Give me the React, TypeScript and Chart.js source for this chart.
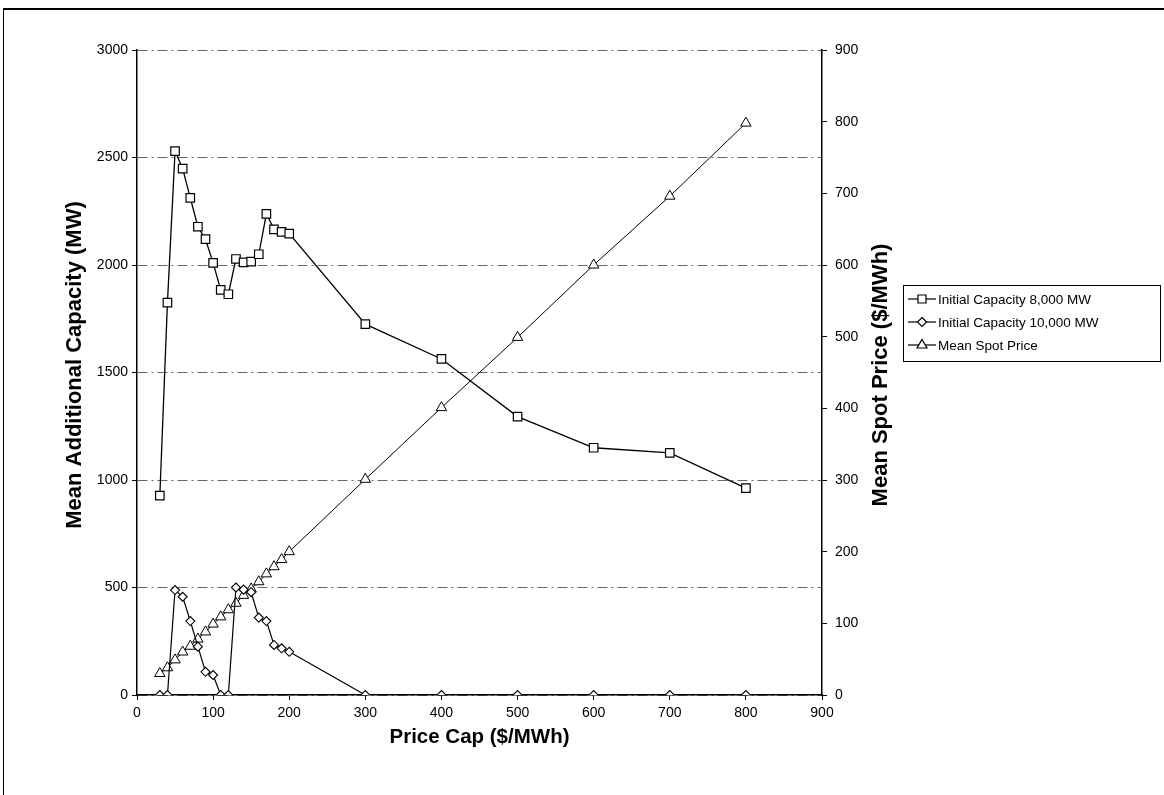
import React, { useEffect, useRef } from "react";
import { Chart, registerables } from "chart.js";

Chart.register(...registerables);

const priceCaps = [30, 40, 50, 60, 70, 80, 90, 100, 110, 120, 130, 140, 150, 160, 170, 180, 190, 200, 300, 400, 500, 600, 700, 800];
const capacity8000 = [927, 1825, 2530, 2448, 2312, 2178, 2120, 2010, 1884, 1864, 2028, 2012, 2016, 2050, 2238, 2166, 2154, 2146, 1725, 1563, 1295, 1150, 1126, 962];
const capacity10000 = [0, 0, 488, 457, 344, 225, 108, 93, 0, 0, 500, 490, 478, 360, 344, 233, 217, 201, 0, 0, 0, 0, 0, 0];
const meanSpotPrice = [30, 38, 49, 60, 68, 78, 88, 99, 109, 119, 128, 139, 148, 158, 169, 179, 189, 200, 301, 401, 499, 600, 696, 798];

const seriesNames = ["Initial Capacity 8,000 MW", "Initial Capacity 10,000 MW", "Mean Spot Price"];
const xTitle = "Price Cap ($/MWh)";
const yLeftTitle = "Mean Additional Capacity (MW)";
const yRightTitle = "Mean Spot Price ($/MWh)";

const FONT = "'Liberation Sans', Arial, sans-serif";

function drawMarker(ctx: CanvasRenderingContext2D, style: string, x: number, y: number) {
  ctx.beginPath();
  if (style === "rect") {
    ctx.rect(x - 4, y - 4, 8, 8);
  } else if (style === "rectRot") {
    ctx.moveTo(x, y - 4.5);
    ctx.lineTo(x + 4.5, y);
    ctx.lineTo(x, y + 4.5);
    ctx.lineTo(x - 4.5, y);
    ctx.closePath();
  } else {
    ctx.moveTo(x, y - 5.5);
    ctx.lineTo(x + 5, y + 3);
    ctx.lineTo(x - 5, y + 3);
    ctx.closePath();
  }
  ctx.fillStyle = "#fff";
  ctx.fill();
  ctx.stroke();
}

const extrasPlugin = {
  id: "extras",
  afterDraw(chart: any) {
    const ctx: CanvasRenderingContext2D = chart.ctx;
    const area = chart.chartArea;
    ctx.save();
    // left axis title, reading bottom-to-top
    ctx.fillStyle = "#000";
    ctx.font = `bold 22px ${FONT}`;
    ctx.textAlign = "center";
    ctx.textBaseline = "middle";
    ctx.save();
    ctx.translate(75, 365);
    ctx.rotate(-Math.PI / 2);
    ctx.fillText(yLeftTitle, 0, 0);
    ctx.restore();
    // right axis title, reading bottom-to-top
    ctx.translate(881, 375);
    ctx.rotate(-Math.PI / 2);
    ctx.fillText(yRightTitle, 0, 0);
    ctx.restore();

    // legend box
    ctx.save();
    const x0 = 903, y0 = 285, w = 257, h = 76;
    ctx.strokeStyle = "#000";
    ctx.lineWidth = 1;
    ctx.strokeRect(x0 + 0.5, y0 + 0.5, w, h);
    ctx.font = `13.5px ${FONT}`;
    ctx.textBaseline = "middle";
    ctx.textAlign = "left";
    chart.data.datasets.forEach((ds: any, i: number) => {
      const y = y0 + 14 + i * 23;
      ctx.strokeStyle = "#000";
      ctx.lineWidth = 1.2;
      ctx.beginPath();
      ctx.moveTo(x0 + 5, y);
      ctx.lineTo(x0 + 33, y);
      ctx.stroke();
      drawMarker(ctx, ds.pointStyle, x0 + 19, y);
      ctx.fillStyle = "#000";
      ctx.fillText(ds.label, x0 + 35, y + 1);
    });
    ctx.restore();
  },
};

export default function App() {
  const ref = useRef<HTMLCanvasElement>(null);

  useEffect(() => {
    if (!ref.current) return;
    const mk = (vals: number[]) => priceCaps.map((x, i) => ({ x, y: vals[i] }));
    const tickFont = { family: FONT, size: 14 };
    const titleFont = { family: FONT, size: 20.5, weight: "bold" as const };
    const plain = (v: any) => String(v);
    const chart = new Chart(ref.current, {
      type: "line",
      data: {
        datasets: [
          {
            label: seriesNames[0],
            data: mk(capacity8000),
            yAxisID: "y",
            borderColor: "#000",
            borderWidth: 1.3,
            pointStyle: "rect",
            pointRadius: 6,
            pointBorderColor: "#000",
            pointBackgroundColor: "#fff",
            pointBorderWidth: 1.2,
          },
          {
            label: seriesNames[1],
            data: mk(capacity10000),
            yAxisID: "y",
            borderColor: "#000",
            borderWidth: 1.2,
            pointStyle: "rectRot",
            pointRadius: 4.5,
            pointBorderColor: "#000",
            pointBackgroundColor: "#fff",
            pointBorderWidth: 1.1,
          },
          {
            label: seriesNames[2],
            data: mk(meanSpotPrice),
            yAxisID: "y1",
            borderColor: "#000",
            borderWidth: 1,
            pointStyle: "triangle",
            pointRadius: 6,
            pointBorderColor: "#000",
            pointBackgroundColor: "#fff",
            pointBorderWidth: 1,
          },
        ],
      },
      options: {
        animation: false,
        responsive: false,
        maintainAspectRatio: false,
        layout: { padding: { left: 0, right: 1164 - 822 - 78, top: 50, bottom: 0 } },
        plugins: { legend: { display: false }, tooltip: { enabled: false } },
        scales: {
          x: {
            type: "linear",
            position: "bottom",
            min: 0,
            max: 900,
            ticks: { stepSize: 100, font: tickFont, color: "#000", padding: 5, callback: plain },
            grid: { drawOnChartArea: false, tickLength: 5, tickColor: "#000", color: "#000" },
            border: { color: "#000", width: 1.5 },
            title: { display: true, text: xTitle, font: titleFont, color: "#000", padding: { top: 0, bottom: 45 } },
            afterFit: (s: any) => { s.height = 100; },
          },
          y: {
            position: "left",
            min: 0,
            max: 3000,
            ticks: { stepSize: 500, font: tickFont, color: "#000", padding: 4, callback: plain },
            grid: { color: "#666", lineWidth: 1, tickLength: 5, tickColor: "#000", tickBorderDash: [] },
            border: { color: "#000", width: 1.5, dash: [10, 4, 2, 4] },
            title: { display: false },
            afterFit: (s: any) => { s.width = 137; },
          },
          y1: {
            position: "right",
            min: 0,
            max: 900,
            ticks: { stepSize: 100, font: tickFont, color: "#000", padding: 8, callback: plain },
            grid: { drawOnChartArea: false, tickLength: 5, tickColor: "#000", color: "#000" },
            border: { color: "#000", width: 1.5 },
            afterFit: (s: any) => { s.width = 78; },
          },
        },
      },
      plugins: [extrasPlugin],
    });
    return () => chart.destroy();
  }, []);

  return (
    <div style={{ position: "fixed", left: 0, top: 0, width: 1164, height: 795, background: "#fff", overflow: "hidden" }}>
      <div
        style={{
          position: "absolute",
          left: 3,
          top: 8,
          width: 1200,
          height: 800,
          borderTop: "2px solid #000",
          borderLeft: "1.5px solid #000",
        }}
      />
      <canvas ref={ref} width={1164} height={795} style={{ position: "absolute", left: 0, top: 0, width: 1164, height: 795 }} />
    </div>
  );
}
